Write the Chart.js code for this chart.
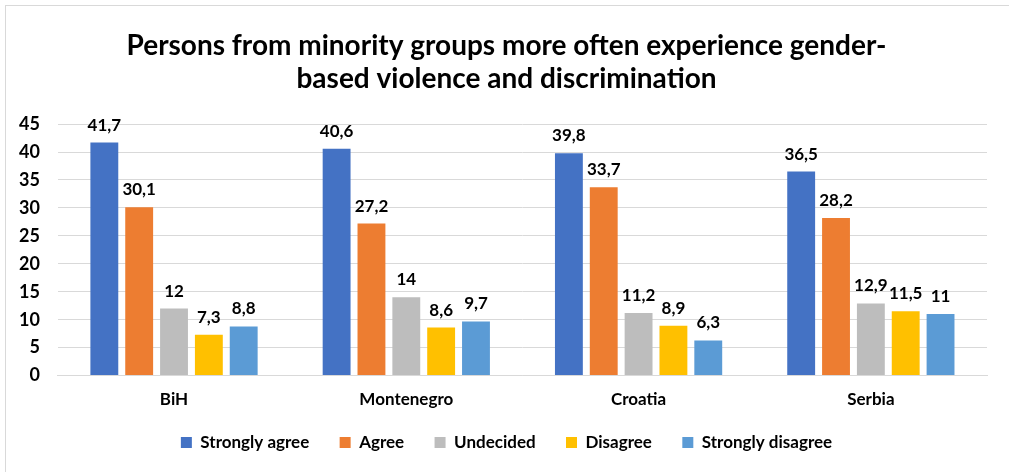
<!DOCTYPE html>
<html>
<head>
<meta charset="utf-8">
<script src="https://cdn.jsdelivr.net/npm/chart.js@4/dist/chart.umd.min.js"></script>
<style>
  html, body { margin: 0; padding: 0; background: #fff; overflow: hidden; }
  #frame {
    position: absolute; left: 5px; top: 5px;
    width: 1020px; height: 480px;
    border: 1px solid #d9d9d9;
  }
  #wrap { position: absolute; left: 0; top: 0; width: 1003px; height: 466px; }
</style>
</head>
<body>
<div id="frame">
  <div id="wrap"><canvas id="chart"></canvas></div>
</div>
<script>
// values
const countries = ["BiH", "Montenegro", "Croatia", "Serbia"];
const seriesNames = ["Strongly agree", "Agree", "Undecided", "Disagree", "Strongly disagree"];
const stronglyAgree = [41.7, 40.6, 39.8, 36.5];
const agree = [30.1, 27.2, 33.7, 28.2];
const undecided = [12, 14, 11.2, 12.9];
const disagree = [7.3, 8.6, 8.9, 11.5];
const stronglyDisagree = [8.8, 9.7, 6.3, 11];
const yTicks = [0, 5, 10, 15, 20, 25, 30, 35, 40, 45];

const colors = ["#4472C4", "#ED7D31", "#BDBDBD", "#FFC000", "#5B9BD5"];
const allSeries = [stronglyAgree, agree, undecided, disagree, stronglyDisagree];

const font = "Lato, 'Open Sans', sans-serif";

// draws the value above each bar, with decimal comma
const valueLabels = {
  id: "valueLabels",
  afterDatasetsDraw(chart) {
    const ctx = chart.ctx;
    ctx.save();
    ctx.font = "bold 17px " + font;
    ctx.fillStyle = "#000";
    ctx.textAlign = "center";
    ctx.textBaseline = "bottom";
    chart.data.datasets.forEach((ds, i) => {
      const meta = chart.getDatasetMeta(i);
      meta.data.forEach((bar, j) => {
        const txt = String(ds.data[j]).replace(".", ",");
        ctx.fillText(txt, bar.x, bar.y - 9);
      });
    });
    ctx.restore();
  }
};

// the y axis is narrowed in afterFit, so widen its label clip box again
const unclipY = {
  id: "unclipY",
  afterLayout(chart) { chart.scales.y.left = 0; }
};

new Chart(document.getElementById("chart"), {
  type: "bar",
  data: {
    labels: countries,
    datasets: seriesNames.map((name, i) => ({
      label: name,
      data: allSeries[i],
      backgroundColor: colors[i],
      barPercentage: 0.8,
      categoryPercentage: 0.75
    }))
  },
  options: {
    responsive: true,
    maintainAspectRatio: false,
    animation: false,
    layout: { padding: { left: 20, right: 22, top: 14, bottom: 11 } },
    plugins: {
      title: {
        display: true,
        text: ["Persons from minority groups more often experience gender-", "based violence and discrimination"],
        color: "#000",
        font: { family: font, size: 28, weight: "bold", lineHeight: 1.18 },
        padding: { top: 9, bottom: 29 }
      },
      legend: {
        position: "bottom",
        labels: {
          boxWidth: 11,
          boxHeight: 11,
          padding: 18,
          color: "#000",
          font: { family: font, size: 17, weight: "bold" },
          // extra spaces widen the gap between items without growing the legend's height
          generateLabels(chart) {
            const items = Chart.defaults.plugins.legend.labels.generateLabels(chart);
            items.forEach((it, i) => { if (i < items.length - 1) it.text += "   "; });
            return items;
          }
        }
      },
      tooltip: { enabled: false }
    },
    scales: {
      x: {
        grid: { display: false },
        border: { color: "#d9d9d9" },
        ticks: { color: "#000", font: { family: font, size: 17, weight: "bold" }, padding: 6 }
      },
      y: {
        min: 0,
        max: 45,
        afterBuildTicks(axis) { axis.ticks = yTicks.map(v => ({ value: v })); },
        afterFit(axis) { axis.width -= 25; },
        grid: { color: "#d9d9d9", drawTicks: false },
        border: { display: false },
        ticks: { color: "#000", font: { family: font, size: 18, weight: "bold" }, padding: 18 }
      }
    }
  },
  plugins: [valueLabels, unclipY]
});
</script>
</body>
</html>
